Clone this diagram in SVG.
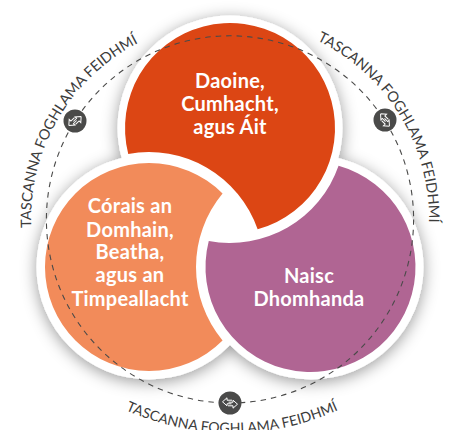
<svg xmlns="http://www.w3.org/2000/svg" xmlns:xlink="http://www.w3.org/1999/xlink" width="453" height="430" viewBox="0 0 453 430">
<style>
.lbl{font-family:Lato,"Open Sans",sans-serif;font-weight:700;font-size:20px;letter-spacing:.25px;fill:#fff;text-anchor:middle}
.arc{font-family:Lato,"Open Sans",sans-serif;font-size:14.5px;fill:#3c3c3b}
.arcb{font-size:14.1px}
.ic{fill:#4a4a49}
.ar{fill:none;stroke:#fff;stroke-width:1;stroke-linejoin:miter}
</style>
<defs>
<filter id="sh" x="-20%" y="-20%" width="140%" height="140%">
<feDropShadow dx="0" dy="3" stdDeviation="8" flood-color="#000" flood-opacity="0.4"/>
</filter>
<path id="tlx" d="M31.76 236.74A199 199 0 0 1 230 20.4"/>
<path id="trx" d="M230 20.4A199 199 0 0 1 426 254"/>
<path id="bx" d="M83.4 386A259 259 0 0 0 380.6 386"/>
<g id="arrows">
<path class="ar" d="M-7.5 -1.2L-3 -5.2V-2.8H2M7.5 1.2L3 5.2V2.8H-2M-7.5 -1.2L-3 2.8V0.8H1.5M7.5 1.2L3 -2.8V-0.8H-1.5"/>
</g>
</defs>
<g id="shadow" filter="url(#sh)" fill="#fff">
<circle cx="230" cy="128" r="112.500"/>
<circle cx="149" cy="267" r="112.500"/>
<circle cx="311" cy="267" r="112.500"/>
</g>
<g id="node-daoine">
<path fill="#dc4614" d="M128.25 153.9A105 105 0 1 1 257.65 229.3A115 115 0 0 0 128.25 153.9Z"/>
<text class="lbl"><tspan x="230" y="88">Daoine,</tspan><tspan x="230" y="111">Cumhacht,</tspan><tspan x="230" y="134">agus Áit</tspan></text>
</g>
<g id="node-corais">
<path fill="#f28b5a" d="M222.56 193.5A115 115 0 0 0 222.56 340.5A104 104 0 1 1 222.56 193.5Z"/>
<text class="lbl"><tspan x="130" y="213">Córais an</tspan><tspan x="130" y="237">Domhain,</tspan><tspan x="130" y="259">Beatha,</tspan><tspan x="130" y="282">agus an</tspan><tspan x="130" y="306">Timpeallacht</tspan></text>
</g>
<g id="node-naisc">
<path fill="#b06593" d="M338.56 165.8A105 105 0 1 1 208.76 241A115 115 0 0 0 338.56 165.8Z"/>
<text class="lbl"><tspan x="309" y="283">Naisc</tspan><tspan x="309" y="306">Dhomhanda</tspan></text>
</g>
<g id="connectors">
<circle cx="230" cy="219.400" r="183.600" fill="none" stroke="#4a4a49" stroke-width="1.100" stroke-dasharray="5.500 5"/>
</g>
<g id="node-icon-left">
<circle class="ic" cx="75" cy="121" r="11.500"/>
<use xlink:href="#arrows" href="#arrows" transform="translate(75 121) rotate(-45)"/>
</g>
<g id="node-icon-right">
<circle class="ic" cx="385" cy="120" r="11.500"/>
<use xlink:href="#arrows" href="#arrows" transform="translate(385 120) rotate(45)"/>
</g>
<g id="node-icon-bottom">
<circle class="ic" cx="230" cy="403" r="11.500"/>
<use xlink:href="#arrows" href="#arrows" transform="translate(230 403)"/>
</g>
<g id="labels-outer">
<text class="arc"><textPath href="#tlx" xlink:href="#tlx" startOffset="9">TASCANNA FOGHLAMA FEIDHMÍ</textPath></text>
<text class="arc"><textPath href="#trx" xlink:href="#trx" startOffset="90">TASCANNA FOGHLAMA FEIDHMÍ</textPath></text>
<text class="arc arcb" text-anchor="middle"><textPath href="#bx" xlink:href="#bx" startOffset="50%">TASCANNA FOGHLAMA FEIDHMÍ</textPath></text>
</g>
</svg>
